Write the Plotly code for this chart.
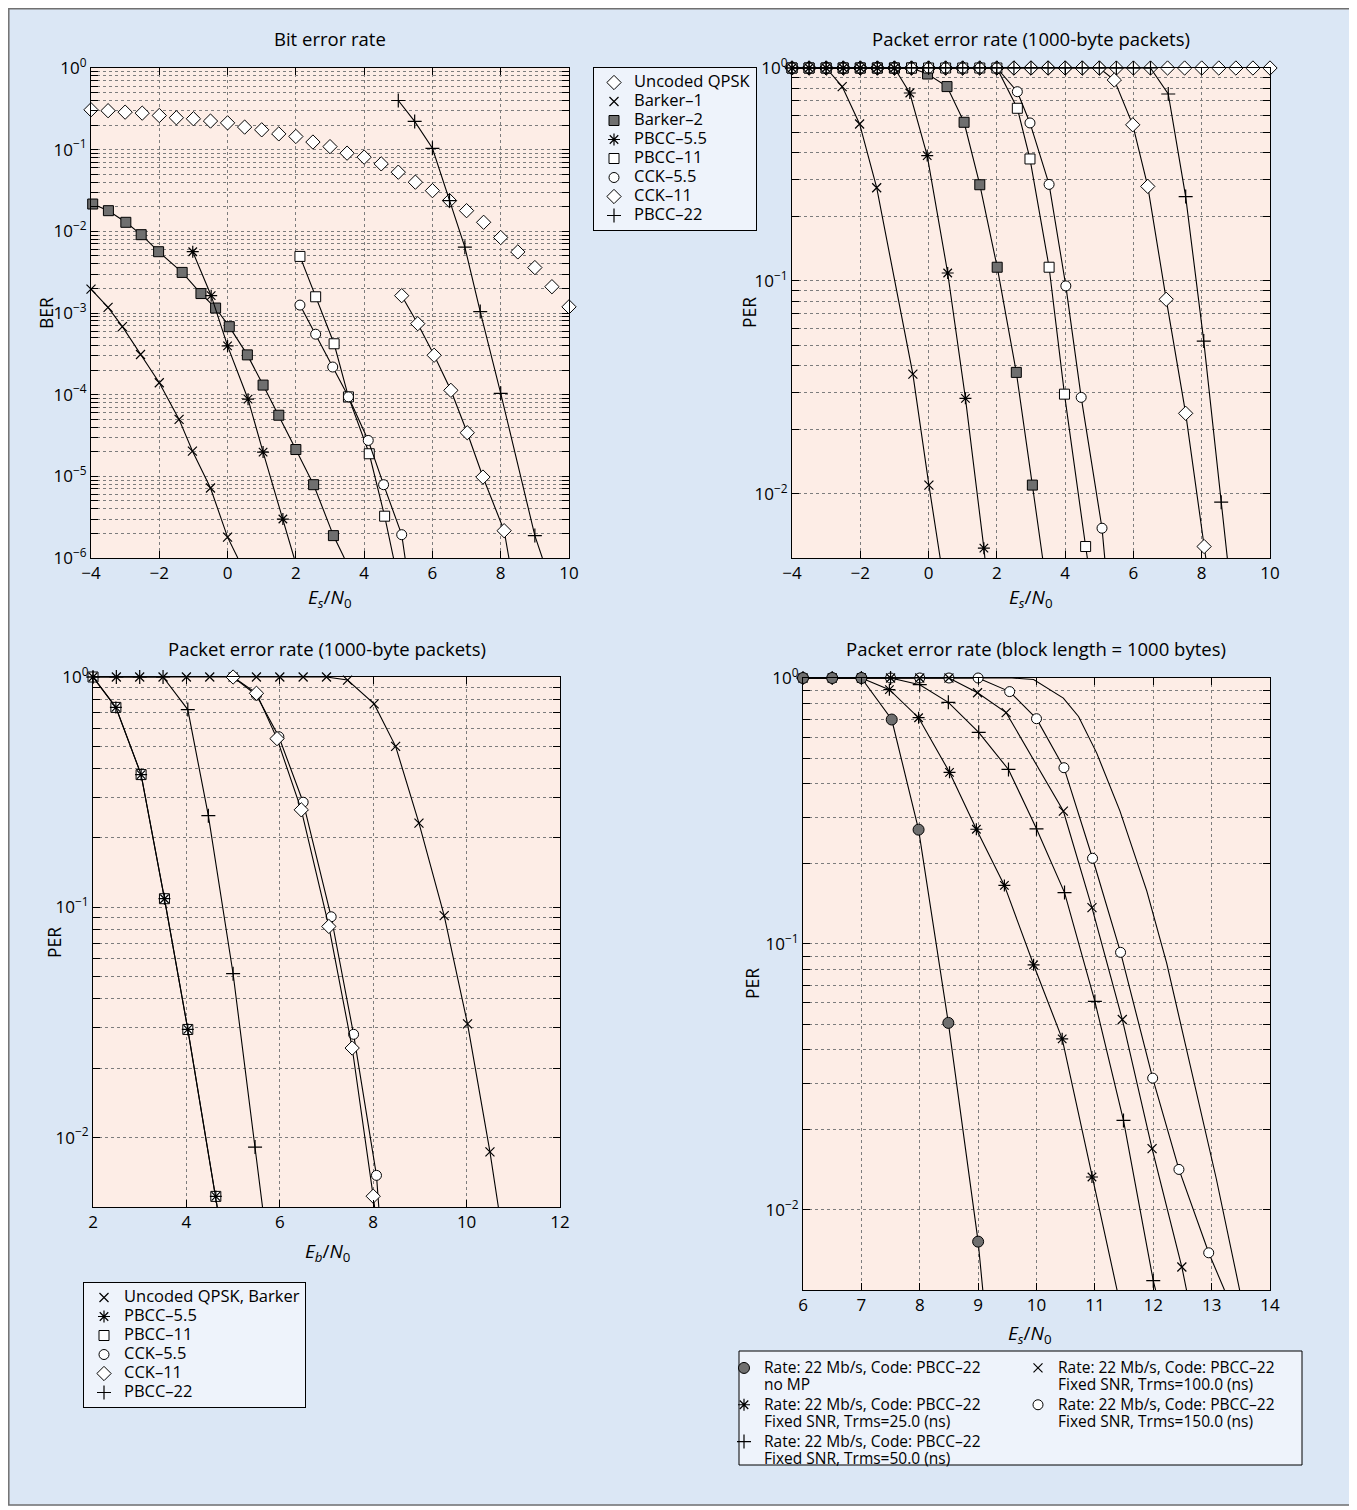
import math
import plotly.graph_objects as go

# page is rendered with an 8px body margin: figure coords = page coords - OFF
OFF = 8
W, H = 1357 - OFF, 1510 - OFF
FONT = "Open Sans"
PAGE_BG = "#dbe7f5"
PLOT_BG = "#fdede6"
LEG_BG = "#eef3fb"
GRID = "#7d7d7d"

# ---------------- Top-left: Bit error rate (x = Es/N0) ----------------
tl_qpsk_x = [-4, -3.5, -3, -2.5, -2, -1.5, -1, -0.5, 0, 0.5, 1, 1.5, 2, 2.5, 3, 3.5, 4, 4.5, 5,
             5.5, 6, 6.5, 7, 7.5, 8, 8.5, 9, 9.5, 10]
tl_qpsk_y = [0.308, 0.30, 0.288, 0.28, 0.262, 0.246, 0.239, 0.224, 0.213, 0.189, 0.175, 0.156, 0.145,
             0.124, 0.109, 0.0906, 0.081, 0.067, 0.053, 0.040, 0.0315, 0.0238, 0.0179, 0.0129, 0.0084,
             0.0056, 0.0036, 0.0021, 0.00119]
tl_barker1_x = [-4, -3.5, -3.08, -2.55, -2, -1.42, -1.03, -0.5, 0]
tl_barker1_y = [0.00196, 0.00117, 6.8e-4, 3.1e-4, 1.4e-4, 4.98e-5, 2.04e-5, 7.2e-6, 1.8e-6]
tl_barker1_end = [0.3, 1e-6]
tl_barker2_x = [-3.95, -3.49, -2.98, -2.53, -2.02, -1.33, -0.78, -0.35, 0.05, 0.58, 1.04, 1.5, 2.0, 2.52, 3.1]
tl_barker2_y = [0.0216, 0.0179, 0.0129, 0.0091, 0.00563, 0.00314, 0.00173, 0.00115, 6.8e-4, 3.07e-4,
                1.31e-4, 5.6e-5, 2.13e-5, 7.9e-6, 1.88e-6]
tl_barker2_end = [3.42, 1e-6]
tl_pbcc55_x = [-1.02, -0.48, 0, 0.6, 1.04, 1.62]
tl_pbcc55_y = [0.00563, 0.00163, 3.95e-4, 8.8e-5, 1.98e-5, 3.0e-6]
tl_pbcc55_end = [1.95, 1e-6]
tl_pbcc11_x = [2.12, 2.58, 3.12, 3.54, 4.15, 4.6]
tl_pbcc11_y = [0.00493, 0.00158, 4.2e-4, 9.4e-5, 1.89e-5, 3.25e-6]
tl_pbcc11_end = [4.86, 1e-6]
tl_cck55_x = [2.12, 2.58, 3.08, 3.54, 4.12, 4.57, 5.1]
tl_cck55_y = [0.00125, 5.5e-4, 2.18e-4, 9.4e-5, 2.75e-5, 7.9e-6, 1.93e-6]
tl_cck55_end = [5.2, 1e-6]
tl_cck11_x = [5.1, 5.57, 6.05, 6.54, 7.02, 7.48, 8.1]
tl_cck11_y = [0.00163, 7.4e-4, 3.04e-4, 1.13e-4, 3.42e-5, 9.8e-6, 2.16e-6]
tl_cck11_end = [8.24, 1e-6]
tl_pbcc22_x = [5.0, 5.48, 6.0, 6.5, 6.95, 7.4, 8.0, 9.0]
tl_pbcc22_y = [0.40, 0.222, 0.104, 0.0238, 0.0064, 0.00104, 1.04e-4, 1.88e-6]
tl_pbcc22_end = [9.22, 1e-6]

# ---------------- Top-right: PER (x = Es/N0) ----------------
tr_qpsk_x = tl_qpsk_x
tr_qpsk_y = [1, 1, 1, 1, 1, 1, 1, 1, 1, 1, 1, 1, 1, 1, 1, 1, 1, 1, 1, 1, 1, 1, 1, 1, 1, 1, 1, 1, 1]
tr_barker1_x = [-4, -3.5, -3, -2.53, -2.02, -1.52, -0.46, 0.01]
tr_barker1_y = [1, 1, 1, 0.818, 0.546, 0.274, 0.0365, 0.011]
tr_barker1_end = [0.34, 0.005]
tr_barker2_x = [-4, -3.5, -3, -2.5, -2, -1.5, -1, -0.5, -0.03, 0.54, 1.04, 1.5, 2.01, 2.57, 3.04]
tr_barker2_y = [1, 1, 1, 1, 1, 1, 1, 1, 0.937, 0.818, 0.556, 0.283, 0.116, 0.0372, 0.011]
tr_barker2_end = [3.34, 0.005]
tr_pbcc55_x = [-4, -3.5, -3, -2.5, -2, -1.5, -1, -0.55, -0.04, 0.56, 1.08, 1.62]
tr_pbcc55_y = [1, 1, 1, 1, 1, 1, 1, 0.763, 0.388, 0.109, 0.0281, 0.00556]
tr_pbcc55_end = [1.65, 0.005]
tr_pbcc11_x = [-4, -3.5, -3, -2.5, -2, -1.5, -1, -0.5, 0, 0.5, 1, 1.5, 2, 2.6, 2.97, 3.53, 3.98, 4.6]
tr_pbcc11_y = [1, 1, 1, 1, 1, 1, 1, 1, 1, 1, 1, 1, 1, 0.647, 0.374, 0.116, 0.0294, 0.00566]
tr_pbcc11_end = [4.65, 0.005]
tr_cck55_x = [-4, -3.5, -3, -2.5, -2, -1.5, -1, -0.5, 0, 0.5, 1, 1.5, 2, 2.6, 2.97, 3.53, 4.02, 4.47, 5.08]
tr_cck55_y = [1, 1, 1, 1, 1, 1, 1, 1, 1, 1, 1, 1, 1, 0.774, 0.552, 0.284, 0.0948, 0.0284, 0.0069]
tr_cck55_end = [5.16, 0.005]
tr_cck11_x = [-4, -3.5, -3, -2.5, -2, -1.5, -1, -0.5, 0, 0.5, 1, 1.5, 2, 2.5, 3, 3.5, 4, 4.5, 5,
              5.44, 5.98, 6.42, 6.96, 7.53, 8.07]
tr_cck11_y = [1, 1, 1, 1, 1, 1, 1, 1, 1, 1, 1, 1, 1, 1, 1, 1, 1, 1, 1,
              0.878, 0.541, 0.278, 0.082, 0.0239, 0.00566]
tr_cck11_end = [8.12, 0.005]
tr_pbcc22_x = [-4, -3.5, -3, -2.5, -2, -1.5, -1, -0.5, 0, 0.5, 1, 1.5, 2, 2.5, 3, 3.5, 4, 4.5, 5,
               5.5, 6, 6.5, 7.02, 7.53, 8.06, 8.57]
tr_pbcc22_y = [1, 1, 1, 1, 1, 1, 1, 1, 1, 1, 1, 1, 1, 1, 1, 1, 1, 1, 1, 1, 1, 1,
               0.755, 0.249, 0.0522, 0.00914]
tr_pbcc22_end = [8.75, 0.005]

# ---------------- Bottom-left: PER (x = Eb/N0) ----------------
bl_unc_x = [2, 2.5, 3, 3.5, 4, 4.5, 5, 5.5, 6, 6.5, 7, 7.45, 8.02, 8.48, 8.98, 9.52, 10.02, 10.5]
bl_unc_y = [1, 1, 1, 1, 1, 1, 1, 1, 1, 1, 1, 0.97, 0.764, 0.50, 0.232, 0.092, 0.0312, 0.00868]
bl_unc_end = [10.68, 0.005]
bl_pbcc55_x = [2, 2.49, 3.03, 3.53, 4.03, 4.63]
bl_pbcc55_y = [1, 0.738, 0.377, 0.109, 0.0295, 0.00556]
bl_pbcc55_end = [4.66, 0.005]
bl_pbcc11_x = [2, 2.49, 3.03, 3.53, 4.03, 4.63]
bl_pbcc11_y = [1, 0.738, 0.377, 0.109, 0.0295, 0.00556]
bl_pbcc11_end = [4.66, 0.005]
bl_cck55_x = [5.0, 5.5, 5.98, 6.5, 7.1, 7.58, 8.07]
bl_cck55_y = [1, 0.834, 0.55, 0.286, 0.091, 0.0281, 0.00686]
bl_cck55_end = [8.12, 0.005]
bl_cck11_x = [5.0, 5.5, 5.94, 6.46, 7.05, 7.55, 8.0]
bl_cck11_y = [1, 0.85, 0.54, 0.265, 0.0826, 0.0245, 0.00557]
bl_cck11_end = [8.03, 0.005]
bl_pbcc22_x = [2, 2.5, 3, 3.5, 4.03, 4.47, 5.0, 5.47]
bl_pbcc22_y = [1, 1, 1, 1, 0.722, 0.25, 0.0515, 0.0091]
bl_pbcc22_end = [5.63, 0.005]

# ---------------- Bottom-right: PER, block length 1000 bytes ----------------
br_nomp_x = [6, 6.5, 7, 7.52, 7.98, 8.49, 9.0]
br_nomp_y = [1, 1, 1, 0.698, 0.269, 0.0505, 0.0076]
br_nomp_end = [9.08, 0.005]
br_t25_x = [6, 6.5, 7, 7.48, 7.98, 8.51, 8.97, 9.45, 9.95, 10.44, 10.95]
br_t25_y = [1, 1, 1, 0.904, 0.709, 0.442, 0.27, 0.166, 0.0835, 0.044, 0.0133]
br_t25_end = [11.38, 0.005]
br_t50_x = [6, 6.5, 7, 7.5, 8.0, 8.49, 9.01, 9.52, 10.0, 10.48, 11.0, 11.49, 12.0]
br_t50_y = [1, 1, 1, 1, 0.944, 0.81, 0.625, 0.453, 0.271, 0.156, 0.0608, 0.0217, 0.00542]
br_t50_end = [12.04, 0.005]
br_t100_x = [6, 6.5, 7, 7.5, 8, 8.5, 8.99, 9.48, 10.46, 10.95, 11.47, 11.98, 12.49]
br_t100_y = [1, 1, 1, 1, 1, 1, 0.88, 0.741, 0.316, 0.137, 0.052, 0.017, 0.0061]
br_t100_end = [12.57, 0.005]
br_t150_x = [6, 6.5, 7, 7.5, 8, 8.5, 9.0, 9.54, 10.0, 10.47, 10.96, 11.44, 11.99, 12.44, 12.95]
br_t150_y = [1, 1, 1, 1, 1, 1, 1, 0.889, 0.703, 0.46, 0.21, 0.093, 0.0313, 0.0142, 0.0069]
br_t150_end = [13.22, 0.005]
br_extra_x = [6, 9.58, 9.95, 10.46, 10.72, 11.03, 11.43, 11.89, 12.23, 13.08, 13.48]
br_extra_y = [1, 1, 0.987, 0.84, 0.717, 0.523, 0.316, 0.158, 0.0847, 0.0131, 0.005]

# ---------------- tick labels ----------------
ber_decades = [-6, -5, -4, -3, -2, -1, 0]
per_decades = [-2, -1, 0]
dec_labels = {-6: "10<sup>−6</sup>", -5: "10<sup>−5</sup>", -4: "10<sup>−4</sup>", -3: "10<sup>−3</sup>",
              -2: "10<sup>−2</sup>", -1: "10<sup>−1</sup>", 0: "10<sup>0</sup>"}
PER_MIN = 0.005


# ---------------- helpers (page pixel -> paper fraction) ----------------
def px(x):
    return (x - OFF) / W


def py(y):
    return 1 - (y - OFF) / H


def log_ticks(decs, vmin):
    vals, txt = [], []
    for d in decs:
        for m in range(1, 10):
            v = m * 10 ** d
            if v < vmin * 0.999 or v > 1.0001:
                continue
            vals.append(v)
            txt.append(dec_labels[d] if m == 1 else "")
    return vals, txt


MK = {
    "diamond": dict(symbol="diamond", size=11, color="white", line=dict(color="black", width=1)),
    "x": dict(symbol="x-thin", size=9, color="black", line=dict(color="black", width=1.2)),
    "fsquare": dict(symbol="square", size=10, color="#6f6f6f", line=dict(color="black", width=1)),
    "ast": dict(symbol="asterisk", size=10, color="black", line=dict(color="black", width=1.2)),
    "square": dict(symbol="square", size=10, color="white", line=dict(color="black", width=1)),
    "circle": dict(symbol="circle", size=10, color="white", line=dict(color="black", width=1)),
    "plus": dict(symbol="cross-thin", size=10, color="black", line=dict(color="black", width=1.2)),
    "fcircle": dict(symbol="circle", size=11, color="#6f6f6f", line=dict(color="black", width=1)),
}

fig = go.Figure()


def lt(t, size=16.5):
    return '<span style="font-size:%spx">%s</span>' % (size, t)


def add_series(ax, xs, ys, end, mk, name=None, legend=None, rank=None, line=True):
    xa = "x" if ax == 1 else "x%d" % ax
    ya = "y" if ax == 1 else "y%d" % ax
    if line:
        lx = list(xs) + ([end[0]] if end else [])
        ly = list(ys) + ([end[1]] if end else [])
        fig.add_trace(go.Scatter(x=lx, y=ly, mode="lines", line=dict(color="black", width=1.1),
                                 xaxis=xa, yaxis=ya, showlegend=False, hoverinfo="skip"))
    if mk is not None:
        if legend is not None:
            kw = dict(showlegend=True, legend=legend, name=name)
            if rank is not None:
                kw["legendrank"] = rank
        else:
            kw = dict(showlegend=False)
        fig.add_trace(go.Scatter(x=xs, y=ys, mode="markers", marker=MK[mk], cliponaxis=False,
                                 xaxis=xa, yaxis=ya, **kw))


# top-left
add_series(1, tl_qpsk_x, tl_qpsk_y, None, "diamond", lt("Uncoded QPSK"), "legend", 1, line=False)
add_series(1, tl_barker1_x, tl_barker1_y, tl_barker1_end, "x", lt("Barker–1"), "legend", 2)
add_series(1, tl_barker2_x, tl_barker2_y, tl_barker2_end, "fsquare", lt("Barker–2"), "legend", 3)
add_series(1, tl_pbcc55_x, tl_pbcc55_y, tl_pbcc55_end, "ast", lt("PBCC–5.5"), "legend", 4)
add_series(1, tl_pbcc11_x, tl_pbcc11_y, tl_pbcc11_end, "square", lt("PBCC–11"), "legend", 5)
add_series(1, tl_cck55_x, tl_cck55_y, tl_cck55_end, "circle", lt("CCK–5.5"), "legend", 6)
add_series(1, tl_cck11_x, tl_cck11_y, tl_cck11_end, "diamond", lt("CCK–11"), "legend", 7)
add_series(1, tl_pbcc22_x, tl_pbcc22_y, tl_pbcc22_end, "plus", lt("PBCC–22"), "legend", 8)

# top-right
add_series(2, tr_qpsk_x, tr_qpsk_y, None, "diamond", line=False)
add_series(2, tr_cck11_x, tr_cck11_y, tr_cck11_end, "diamond")
add_series(2, tr_barker1_x, tr_barker1_y, tr_barker1_end, "x")
add_series(2, tr_barker2_x, tr_barker2_y, tr_barker2_end, "fsquare")
add_series(2, tr_pbcc11_x, tr_pbcc11_y, tr_pbcc11_end, "square")
add_series(2, tr_cck55_x, tr_cck55_y, tr_cck55_end, "circle")
add_series(2, tr_pbcc55_x, tr_pbcc55_y, tr_pbcc55_end, "ast")
add_series(2, tr_pbcc22_x, tr_pbcc22_y, tr_pbcc22_end, "plus")

# bottom-left
add_series(3, bl_unc_x, bl_unc_y, bl_unc_end, "x", lt("Uncoded QPSK, Barker"), "legend2", 1)
add_series(3, bl_pbcc11_x, bl_pbcc11_y, bl_pbcc11_end, "square", lt("PBCC–11"), "legend2", 3)
add_series(3, bl_pbcc55_x, bl_pbcc55_y, bl_pbcc55_end, "ast", lt("PBCC–5.5"), "legend2", 2)
add_series(3, bl_cck55_x, bl_cck55_y, bl_cck55_end, "circle", lt("CCK–5.5"), "legend2", 4)
add_series(3, bl_cck11_x, bl_cck11_y, bl_cck11_end, "diamond", lt("CCK–11"), "legend2", 5)
add_series(3, bl_pbcc22_x, bl_pbcc22_y, bl_pbcc22_end, "plus", lt("PBCC–22"), "legend2", 6)

# bottom-right
rate = "Rate: 22 Mb/s, Code: PBCC–22"
BRS = 15.5
add_series(4, br_extra_x, br_extra_y, None, None)
add_series(4, br_t150_x, br_t150_y, br_t150_end, "circle",
           lt(rate, BRS) + "<br>" + lt("Fixed SNR, Trms=150.0 (ns)", BRS), "legend4", 2)
add_series(4, br_t100_x, br_t100_y, br_t100_end, "x",
           lt(rate, BRS) + "<br>" + lt("Fixed SNR, Trms=100.0 (ns)", BRS), "legend4", 1)
add_series(4, br_t50_x, br_t50_y, br_t50_end, "plus",
           lt(rate, BRS) + "<br>" + lt("Fixed SNR, Trms=50.0 (ns)", BRS), "legend3", 3)
add_series(4, br_t25_x, br_t25_y, br_t25_end, "ast",
           lt(rate, BRS) + "<br>" + lt("Fixed SNR, Trms=25.0 (ns)", BRS), "legend3", 2)
add_series(4, br_nomp_x, br_nomp_y, br_nomp_end, "fcircle",
           lt(rate, BRS) + "<br>" + lt("no MP", BRS), "legend3", 1)


# ---------------- axes ----------------
def axis_style():
    return dict(showline=True, linecolor="black", linewidth=1, mirror="allticks",
                ticks="inside", ticklen=7, tickcolor="black", tickwidth=1, automargin=False,
                showgrid=True, gridcolor=GRID, griddash="dot", gridwidth=1, zeroline=False,
                tickfont=dict(size=17, color="black", family=FONT))


def xaxis(dom, rng, dtick, anchor):
    d = axis_style()
    d.update(domain=dom, range=rng, dtick=dtick, tick0=0, anchor=anchor)
    return d


def yaxis(dom, decs, vmin, anchor):
    vals, txt = log_ticks(decs, vmin)
    d = axis_style()
    d.update(domain=dom, type="log", range=[math.log10(vmin), 0], anchor=anchor,
             tickmode="array", tickvals=vals, ticktext=txt)
    return d


TOP = [py(558), py(68)]
fig.update_layout(
    xaxis=xaxis([px(91), px(569)], [-4, 10], 2, "y"),
    yaxis=yaxis(TOP, ber_decades, 1e-6, "x"),
    xaxis2=xaxis([px(792), px(1270)], [-4, 10], 2, "y2"),
    yaxis2=yaxis(TOP, per_decades, PER_MIN, "x2"),
    xaxis3=xaxis([px(93), px(560)], [2, 12], 2, "y3"),
    yaxis3=yaxis([py(1207), py(677)], per_decades, PER_MIN, "x3"),
    xaxis4=xaxis([px(803), px(1270)], [6, 14], 1, "y4"),
    yaxis4=yaxis([py(1290), py(678)], per_decades, PER_MIN, "x4"),
)

# ---------------- annotations ----------------
ann = []


def text(x, y, t, size=18.5, angle=0):
    ann.append(dict(x=px(x), y=py(y), xref="paper", yref="paper", text=t, showarrow=False,
                    xanchor="center", yanchor="middle", textangle=angle,
                    font=dict(size=size, color="black", family=FONT)))


text(330, 38, "Bit error rate")
text(1031, 38, "Packet error rate (1000-byte packets)")
text(327, 648, "Packet error rate (1000-byte packets)")
text(1036, 648, "Packet error rate (block length = 1000 bytes)")
es = "<i>E<sub>s</sub></i>/<i>N</i><sub>0</sub>"
eb = "<i>E<sub>b</sub></i>/<i>N</i><sub>0</sub>"
text(330, 598, es, 19)
text(1031, 598, es, 19)
text(327, 1252, eb, 19)
text(1030, 1334, es, 19)
text(46, 313, "BER", 17.5, -90)
text(749, 313, "PER", 17.5, -90)
text(54, 942, "PER", 17.5, -90)
text(752, 984, "PER", 17.5, -90)

shapes = [
    # white outer strip on the right / bottom, then the grey page frame
    dict(type="rect", xref="paper", yref="paper", x0=px(1352.5), x1=1.01, y0=-0.01, y1=1.01,
         line=dict(width=0), fillcolor="white", layer="above"),
    dict(type="rect", xref="paper", yref="paper", x0=-0.01, x1=1.01, y0=-0.01, y1=py(1505.5),
         line=dict(width=0), fillcolor="white", layer="above"),
    dict(type="rect", xref="paper", yref="paper", x0=px(8.8), x1=px(1352), y0=py(1505), y1=py(8.8),
         line=dict(color="#707070", width=1.5), fillcolor="rgba(0,0,0,0)", layer="above"),
    # bottom-right legend frame (shared by two legend columns)
    dict(type="rect", xref="paper", yref="paper", x0=px(739), x1=px(1302), y0=py(1465), y1=py(1351),
         line=dict(color="black", width=1), fillcolor=LEG_BG, layer="below"),
]

leg_common = dict(xanchor="left", yanchor="top", font=dict(size=12, family=FONT, color="black"),
                  itemwidth=30, tracegroupgap=0, traceorder="normal")
leg_br = dict(leg_common)
leg_br["font"] = dict(size=13, family=FONT, color="black")

fig.update_layout(
    template="none",
    width=W, height=H, autosize=False, margin=dict(l=0, r=0, t=0, b=0, pad=0),
    paper_bgcolor=PAGE_BG, plot_bgcolor=PLOT_BG,
    font=dict(family=FONT, color="black"),
    annotations=ann, shapes=shapes, hovermode=False,
    legend=dict(x=px(593), y=py(67), bgcolor=LEG_BG, bordercolor="black", borderwidth=1, **leg_common),
    legend2=dict(x=px(83), y=py(1282), bgcolor=LEG_BG, bordercolor="black", borderwidth=1, **leg_common),
    legend3=dict(x=px(724), y=py(1353), bgcolor="rgba(0,0,0,0)", borderwidth=0, valign="top", **leg_br),
    legend4=dict(x=px(1018), y=py(1353), bgcolor="rgba(0,0,0,0)", borderwidth=0, valign="top", **leg_br),
)

fig.write_html("out.html")
